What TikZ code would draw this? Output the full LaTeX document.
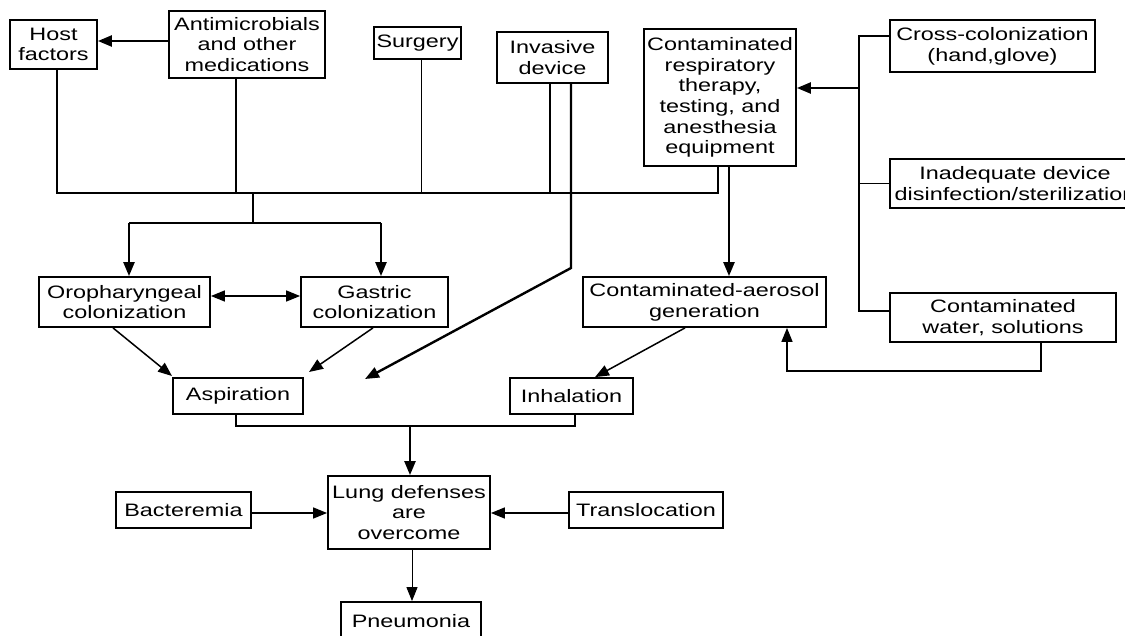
\documentclass[tikz,border=0pt]{standalone}
\usepackage{fontspec}
\setmainfont{Liberation Sans}[FakeStretch=1.3]
\usetikzlibrary{arrows.meta}
\begin{document}
\begin{tikzpicture}[x=1pt,y=-1pt,
  box/.style={draw, line width=1.8pt, inner sep=0pt, align=center,
    font=\fontsize{18}{20.7}\selectfont},
  ln/.style={line width=1.5pt},
  lnb/.style={line width=2.4pt},
  lnt/.style={line width=1.0pt},
  tip/.style={-{Triangle[length=14pt,width=11pt]}},
  tips/.style={{Triangle[length=14pt,width=11pt]}-{Triangle[length=14pt,width=11pt]}}
]
\path[use as bounding box, fill=white] (0,0) rectangle (1125,635);

% nodes
\node[box, minimum width=87pt, minimum height=49pt] (host) at (53.5,44.5) {Host\\factors};
\node[box, minimum width=156pt, minimum height=67pt] (anti) at (247,44.5) {Antimicrobials\\and other\\medications};
\node[box, minimum width=87pt, minimum height=32pt] (surg) at (417.5,43) {Surgery};
\node[box, minimum width=111pt, minimum height=51pt] (inv) at (552.5,57.5) {Invasive\\device};
\node[box, minimum width=152pt, minimum height=137pt] (resp) at (720,97.5) {Contaminated\\respiratory\\therapy,\\testing, and\\anesthesia\\equipment};
\node[box, minimum width=205pt, minimum height=52pt] (cross) at (992.5,46) {Cross-colonization\\(hand,glove)};
\node[box, minimum width=250pt, minimum height=49pt] (inad) at (1015,183.5) {Inadequate device\\disinfection/sterilization};
\node[box, minimum width=226pt, minimum height=49pt] (water) at (1003,317.5) {Contaminated\\water, solutions};
\node[box, minimum width=171pt, minimum height=50pt] (oro) at (124.5,302) {Oropharyngeal\\colonization};
\node[box, minimum width=147pt, minimum height=50pt] (gast) at (374.5,302) {Gastric\\colonization};
\node[box, minimum width=243pt, minimum height=50pt] (aero) at (704.5,302) {Contaminated-aerosol\\generation};
\node[box, minimum width=130pt, minimum height=36pt] (asp) at (238,396) {Aspiration};
\node[box, minimum width=123pt, minimum height=36pt] (inh) at (571.5,396) {Inhalation};
\node[box, minimum width=162pt, minimum height=73pt] (lung) at (409,512.5) {Lung defenses\\are\\overcome};
\node[box, minimum width=135pt, minimum height=36pt] (bact) at (183.5,510) {Bacteremia};
\node[box, minimum width=154pt, minimum height=36pt] (trans) at (646,510) {Translocation};
\node[box, minimum width=140pt, minimum height=38pt] (pneu) at (411,621) {Pneumonia};

% junction coordinates
\coordinate (jl) at (57,193);
\coordinate (jr) at (718,193);
\coordinate (jm) at (253,193);
\coordinate (jd) at (253,223);
\coordinate (jdl) at (129,223);
\coordinate (jdr) at (381,223);
\coordinate (ibend) at (571,268);
\coordinate (itip) at (365,379);
\coordinate (otip) at (172,376);
\coordinate (gtip) at (309,372);
\coordinate (rv) at (859,88);
\coordinate (rtop) at (859,36);
\coordinate (rbot) at (859,311);
\coordinate (wb) at (1041,371);
\coordinate (ab) at (787,371);
\coordinate (bl) at (236,426);
\coordinate (bm) at (410,426);
\coordinate (br) at (575,426);

% top collector
\draw[ln] (host.south -| jl) -- (jl) -- (jr) -- (resp.south -| jr);
\draw[lnb] (anti.south -| 236,0) -- (236,193);
\draw[lnt] (surg.south -| 421,0) -- (421,193);
\draw[ln] (inv.south -| 550,0) -- (550,193);
\draw[lnb] (jm) -- (jd);
\draw[lnb] (jdl) -- (jdr);
\draw[lnb,tip] (jdl) -- (oro.north -| jdl);
\draw[lnb,tip] (jdr) -- (gast.north -| jdr);

% antimicrobials -> host
\draw[lnb,tip] (anti.west |- 0,41) -- (host.east |- 0,41);

% invasive device -> aspiration
\draw[lnb,tip] (inv.south -| ibend) -- (ibend) -- (itip);

% respiratory equipment -> aerosol
\draw[lnb,tip] (resp.south -| 729,0) -- (aero.north -| 729,0);

% right-hand collector
\draw[ln] (cross.west |- rtop) -- (rtop) -- (rbot) -- (water.west |- rbot);
\draw[ln] (inad.west) -- (inad.west -| rv);
\draw[lnb,tip] (rv) -- (resp.east |- rv);

% water -> aerosol
\draw[ln,tip] (water.south -| wb) -- (wb) -- (ab) -- (aero.south -| ab);

% colonization
\draw[ln,tips] (oro.east |- 0,296) -- (gast.west |- 0,296);
\draw[ln,tip] (oro.south -| 113,0) -- (otip);
\draw[ln,tip] (gast.south -| 373,0) -- (gtip);
\draw[ln,tip] (aero.south -| 685,0) -- (inh.north -| 595,0);

% to lung
\draw[ln] (asp.south -| bl) -- (bl) -- (br) -- (inh.south -| br);
\draw[lnb,tip] (bm) -- (lung.north -| bm);
\draw[ln,tip] (bact.east |- 0,513) -- (lung.west |- 0,513);
\draw[ln,tip] (trans.west |- 0,513) -- (lung.east |- 0,513);
\draw[lnt,tip] (lung.south -| 412,0) -- (pneu.north -| 412,0);
\end{tikzpicture}
\end{document}
